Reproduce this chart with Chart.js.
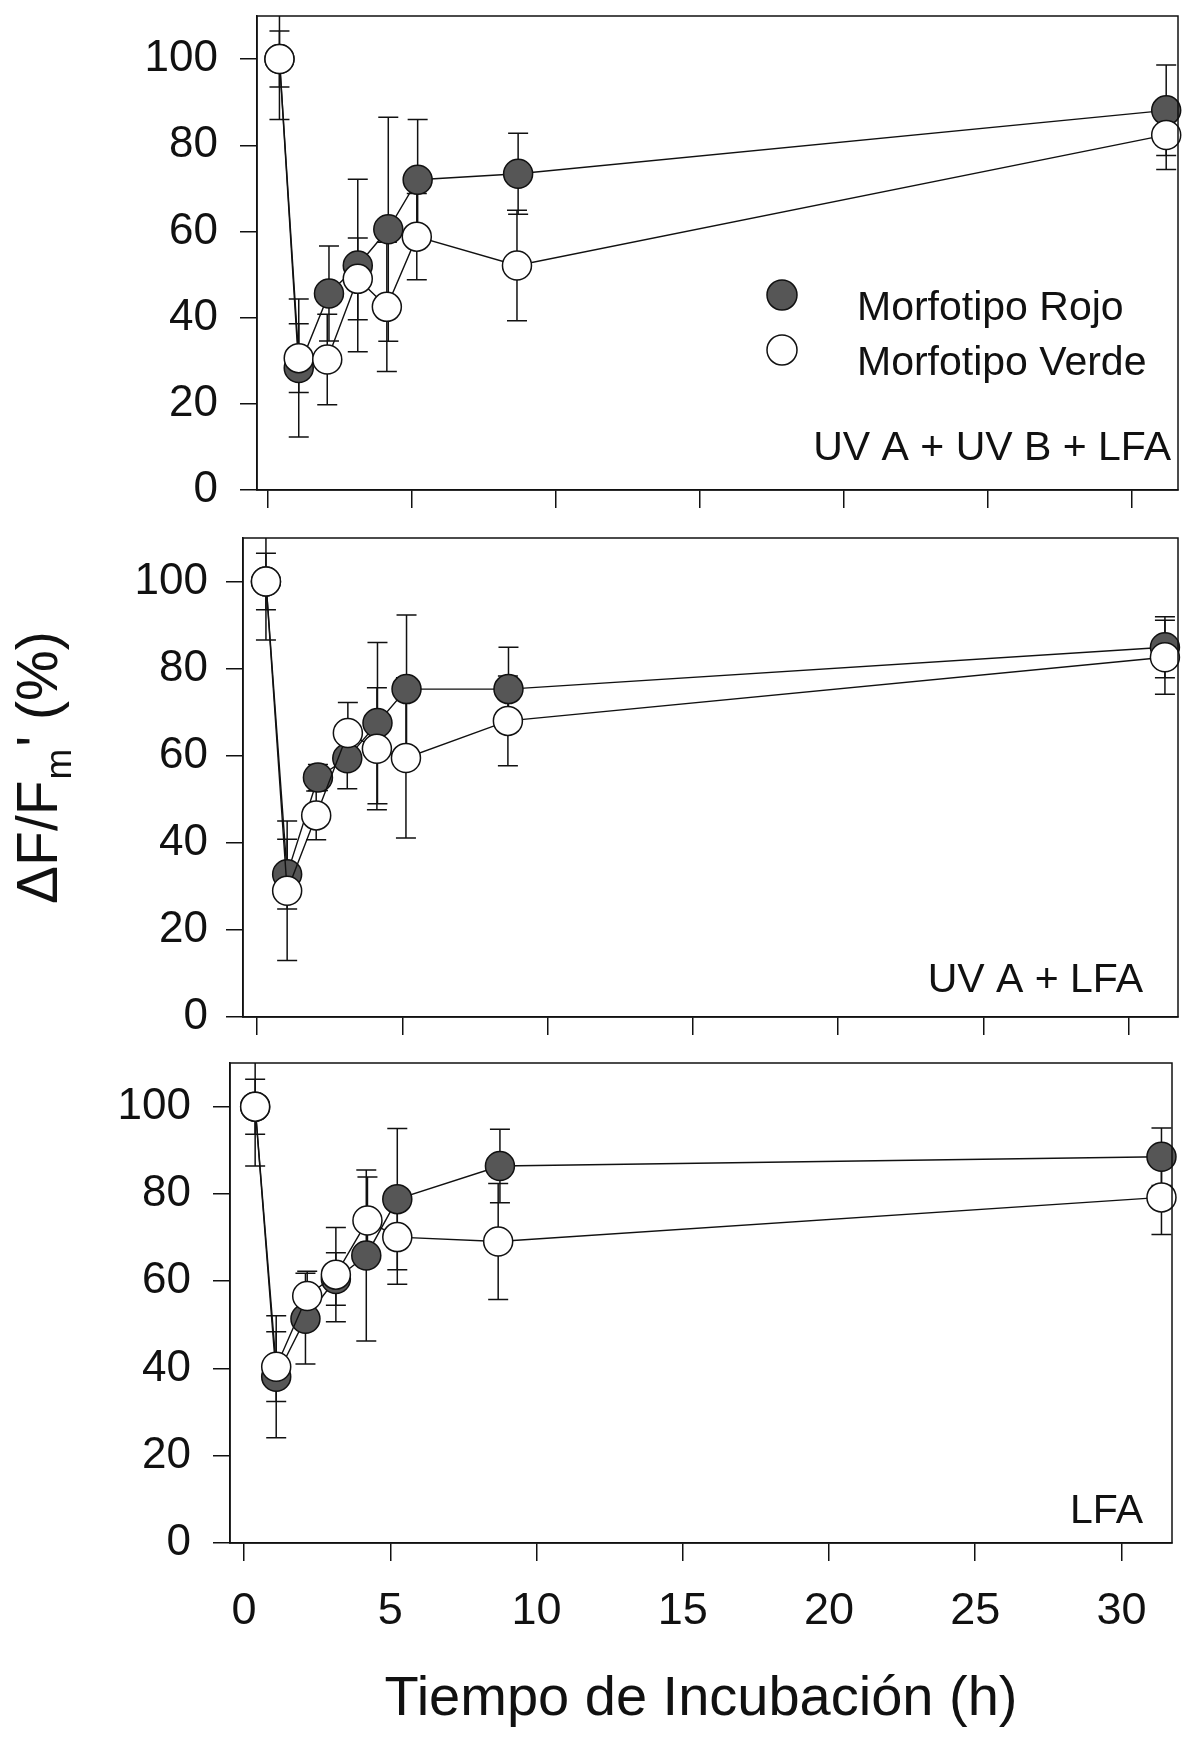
<!DOCTYPE html>
<html>
<head>
<meta charset="utf-8">
<script src="https://cdn.jsdelivr.net/npm/chart.js@4.4.1/dist/chart.umd.min.js"></script>
<style>
  html, body { margin: 0; padding: 0; background: #fff; }
  #wrap { position: relative; width: 1194px; height: 1744px; }
  #wrap canvas { position: absolute; left: 0; top: 0; }
</style>
</head>
<body>
<div id="wrap">
  <canvas id="panelA" width="1194" height="1744"></canvas>
  <canvas id="panelB" width="1194" height="1744"></canvas>
  <canvas id="panelC" width="1194" height="1744"></canvas>
</div>
<script>
// series / tick labels
const seriesNames = ["Morfotipo Rojo", "Morfotipo Verde"];
const panelLabels = ["UV A + UV B + LFA", "UV A + LFA", "LFA"];
const yTicks = [0, 20, 40, 60, 80, 100];
const xTicks = [0, 5, 10, 15, 20, 25, 30];
const xTitle = "Tiempo de Incubación (h)";

// UV A + UV B + LFA
const horasRojoA = [0.4, 1.07, 2.12, 3.12, 4.18, 5.2, 8.69, 31.2];
const rojoA = [100, 28.3, 45.6, 52.1, 60.5, 72.0, 73.4, 88.1];
const errRojoA = [6.5, 16, 11, 20, 26, 14, 9.4, 10.5];
const horasVerdeA = [0.4, 1.07, 2.06, 3.12, 4.13, 5.17, 8.65, 31.2];
const verdeA = [100, 30.6, 30.3, 49.0, 42.5, 58.8, 52.1, 82.4];
const errVerdeA = [14, 8, 10.5, 9.5, 15, 10, 12.8, 8];

// UV A + LFA
const horasRojoB = [0.3, 1.03, 2.09, 3.1, 4.14, 5.14, 8.65, 31.25];
const rojoB = [100, 32.8, 55.0, 59.4, 67.5, 75.3, 75.3, 84.9];
const errRojoB = [6.5, 8, 3, 7, 18.5, 17, 9.6, 7];
const horasVerdeB = [0.3, 1.03, 2.03, 3.12, 4.12, 5.12, 8.63, 31.25];
const verdeB = [100, 29, 46.3, 65.2, 61.6, 59.5, 68.0, 82.6];
const errVerdeB = [13.4, 16, 5.6, 7, 14, 18.4, 10.3, 8.5];

// LFA
const horasRojoC = [0.38, 1.1, 2.1, 3.14, 4.18, 5.24, 8.75, 31.37];
const rojoC = [100, 38.1, 51.4, 60.5, 65.9, 78.8, 86.4, 88.5];
const errRojoC = [6.3, 14, 10.4, 6, 19.6, 16.2, 8.4, 6.6];
const horasVerdeC = [0.38, 1.1, 2.16, 3.14, 4.22, 5.24, 8.69, 31.37];
const verdeC = [100, 40.4, 56.6, 61.5, 73.9, 70.1, 69.1, 79.2];
const errVerdeC = [13.6, 8, 5.7, 10.8, 10, 10.8, 13.3, 8.5];

const INK = "#111";
const DARK = "#565656";
const FONT = '"Liberation Sans", Arial, sans-serif';
Chart.defaults.font.family = FONT;
Chart.defaults.color = INK;

function toPoints(xs, ys) {
  return xs.map((x, i) => ({ x: x, y: ys[i] }));
}

// error bars drawn under the markers
const errorBars = {
  id: "errorBars",
  beforeDatasetsDraw(chart) {
    const { ctx, chartArea, scales } = chart;
    ctx.save();
    ctx.beginPath();
    ctx.rect(chartArea.left, chartArea.top, chartArea.width, chartArea.height);
    ctx.clip();
    ctx.strokeStyle = INK;
    ctx.lineWidth = 1.5;
    chart.data.datasets.forEach((ds) => {
      ds.data.forEach((p, i) => {
        const e = ds.errors[i];
        const px = scales.x.getPixelForValue(p.x);
        const hi = scales.y.getPixelForValue(p.y + e);
        const lo = scales.y.getPixelForValue(p.y - e);
        ctx.beginPath();
        ctx.moveTo(px, hi);
        ctx.lineTo(px, lo);
        ctx.moveTo(px - 10, hi);
        ctx.lineTo(px + 10, hi);
        ctx.moveTo(px - 10, lo);
        ctx.lineTo(px + 10, lo);
        ctx.stroke();
      });
    });
    ctx.restore();
  },
};

// box round the plot + panel label (+ legend on the first one)
const panelDeco = {
  id: "panelDeco",
  afterDraw(chart, args, opts) {
    const { ctx, chartArea } = chart;
    ctx.save();
    ctx.strokeStyle = INK;
    ctx.lineWidth = 1.5;
    ctx.strokeRect(chartArea.left, chartArea.top, chartArea.width, chartArea.height);
    ctx.fillStyle = INK;
    ctx.font = "41px " + FONT;
    ctx.textAlign = "right";
    ctx.textBaseline = "alphabetic";
    ctx.fillText(opts.label, opts.labelX, opts.labelY);

    if (opts.legend) {
      const items = [
        { fill: DARK, y: 295, ty: 320, text: seriesNames[0] },
        { fill: "#fff", y: 350, ty: 375, text: seriesNames[1] },
      ];
      items.forEach((it) => {
        ctx.beginPath();
        ctx.arc(782, it.y, 15, 0, Math.PI * 2);
        ctx.fillStyle = it.fill;
        ctx.fill();
        ctx.lineWidth = 1.5;
        ctx.stroke();
        ctx.fillStyle = INK;
        ctx.textAlign = "left";
        ctx.fillText(it.text, 857, it.ty);
      });
    }

    if (opts.yTitle) {
      ctx.translate(57, 904);
      ctx.rotate(-Math.PI / 2);
      ctx.textAlign = "left";
      ctx.font = "57px " + FONT;
      let x = 0;
      ctx.fillText("ΔF/F", x, 0);
      x += ctx.measureText("ΔF/F").width;
      ctx.font = "37px " + FONT;
      ctx.fillText("m", x + 1, 14);
      x += ctx.measureText("m").width + 3;
      ctx.font = "57px " + FONT;
      ctx.fillText("' (%)", x, 0);
    }
    ctx.restore();
  },
};

function makePanel(id, box, xMin, xMax, rojo, verde, deco, bottomAxis) {
  const yWidth = 200;
  const xHeight = bottomAxis ? 190.6 : 30;
  return new Chart(document.getElementById(id), {
    type: "scatter",
    data: {
      datasets: [
        {
          label: seriesNames[1],
          data: verde.points,
          errors: verde.errors,
          showLine: true,
          borderColor: INK,
          borderWidth: 1.4,
          pointRadius: 14.5,
          pointBorderWidth: 1.5,
          pointBackgroundColor: "#fff",
          pointBorderColor: INK,
          clip: false,
        },
        {
          label: seriesNames[0],
          data: rojo.points,
          errors: rojo.errors,
          showLine: true,
          borderColor: INK,
          borderWidth: 1.4,
          pointRadius: 14.5,
          pointBorderWidth: 1.5,
          pointBackgroundColor: DARK,
          pointBorderColor: INK,
          clip: false,
        },
      ],
    },
    options: {
      responsive: false,
      animation: false,
      events: [],
      layout: {
        padding: {
          left: box.left - yWidth,
          top: box.top,
          right: 1194 - box.right,
          bottom: 1744 - box.bottom - xHeight,
        },
      },
      plugins: {
        legend: { display: false },
        tooltip: { enabled: false },
        panelDeco: deco,
      },
      scales: {
        x: {
          type: "linear",
          min: xMin,
          max: xMax,
          afterBuildTicks: (s) => {
            s.ticks = xTicks.map((v) => ({ value: v }));
          },
          afterFit: (s) => {
            s.height = xHeight;
            s.paddingLeft = 0;
            s.paddingRight = 0;
          },
          grid: { drawOnChartArea: false, drawTicks: true, tickLength: 18, color: INK, lineWidth: 1.5 },
          border: { display: true, color: INK, width: 1.5 },
          ticks: { display: bottomAxis, font: { size: 45 }, color: INK, padding: 24, maxRotation: 0 },
          title: { display: bottomAxis, text: xTitle, font: { size: 56 }, color: INK, padding: 0 },
        },
        y: {
          min: 0,
          max: 110,
          afterBuildTicks: (s) => {
            s.ticks = yTicks.map((v) => ({ value: v }));
          },
          afterFit: (s) => {
            s.width = yWidth;
            s.paddingTop = 0;
            s.paddingBottom = 0;
          },
          grid: { drawOnChartArea: false, drawTicks: true, tickLength: 17, color: INK, lineWidth: 1.5 },
          border: { display: true, color: INK, width: 1.5 },
          ticks: { font: { size: 44 }, color: INK, padding: box.tickPad },
        },
      },
    },
    plugins: [errorBars, panelDeco],
  });
}

makePanel(
  "panelA",
  { left: 257, right: 1190, top: 12, bottom: 490, tickPad: 22 },
  -0.38, 31.61,
  { points: toPoints(horasRojoA, rojoA), errors: errRojoA },
  { points: toPoints(horasVerdeA, verdeA), errors: errVerdeA },
  { label: panelLabels[0], labelX: 1171, labelY: 460, legend: true },
  false
);

makePanel(
  "panelB",
  { left: 243, right: 1183, top: 538, bottom: 1017, tickPad: 18 },
  -0.49, 31.7,
  { points: toPoints(horasRojoB, rojoB), errors: errRojoB },
  { points: toPoints(horasVerdeB, verdeB), errors: errVerdeB },
  { label: panelLabels[1], labelX: 1143, labelY: 992, yTitle: true },
  false
);

makePanel(
  "panelC",
  { left: 230, right: 1172, top: 1063, bottom: 1543, tickPad: 22 },
  -0.48, 31.73,
  { points: toPoints(horasRojoC, rojoC), errors: errRojoC },
  { points: toPoints(horasVerdeC, verdeC), errors: errVerdeC },
  { label: panelLabels[2], labelX: 1143, labelY: 1523 },
  true
);
</script>
</body>
</html>
